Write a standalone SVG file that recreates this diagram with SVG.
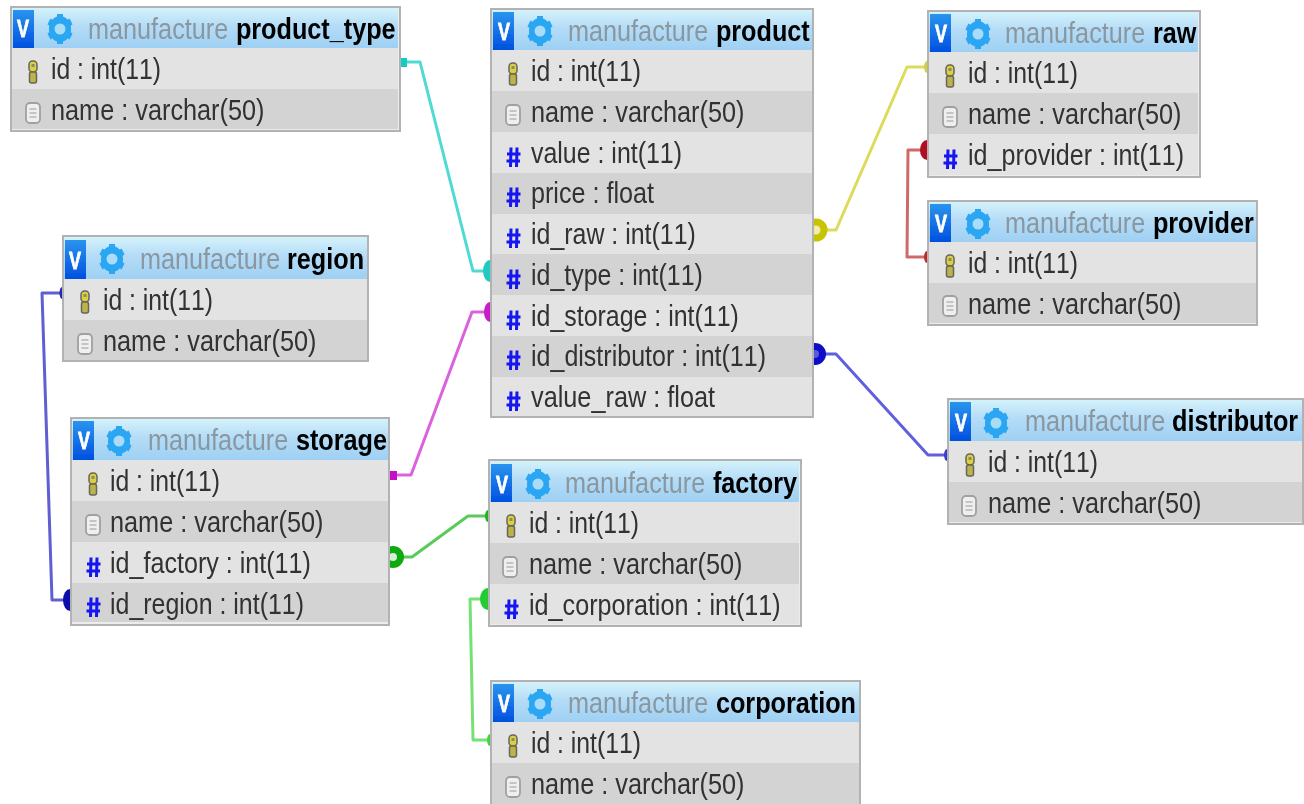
<svg xmlns="http://www.w3.org/2000/svg" width="1304" height="804" viewBox="0 0 1304 804">
<style>
text{font-family:"Liberation Sans",Arial,sans-serif;font-size:29px;font-kerning:none}
.c{fill:#303030}
.m{fill:#8b979f}
.b{fill:#000;font-weight:bold}
.v{fill:#fff;stroke:#fff;stroke-width:.8;font-weight:bold;font-size:24px;text-anchor:middle}
.box{fill:#ececec;stroke:#b2b2b2;stroke-width:2}
.ra{fill:#e3e3e3}
.rb{fill:#d3d3d3}
.h{fill:url(#hg)}
.vb{fill:url(#vg)}
.l{fill:none;stroke-width:3;stroke-linejoin:round}
</style>
<defs>
<linearGradient id="hg" x1="0" y1="0" x2="0" y2="1"><stop offset="0" stop-color="#d4f2fb"/><stop offset=".45" stop-color="#b4dcf7"/><stop offset="1" stop-color="#9ed0f3"/></linearGradient>
<linearGradient id="vg" x1="0" y1="0" x2="0" y2="1"><stop offset="0" stop-color="#2a94ee"/><stop offset="1" stop-color="#0050e0"/></linearGradient>
<filter id="soft" x="-2%" y="-2%" width="104%" height="104%"><feGaussianBlur stdDeviation="0.6"/></filter>
<g id="gear"><g transform="scale(.85 1)"><circle r="9" fill="none" stroke="#2aa6f2" stroke-width="8"/><g fill="#2aa6f2"><rect x="-3.500" y="-15" width="7" height="30"/><rect x="-3.500" y="-15" width="7" height="30" transform="rotate(60)"/><rect x="-3.500" y="-15" width="7" height="30" transform="rotate(120)"/></g></g><circle r="5.500" fill="#a8dcf8"/></g>
<g id="key"><rect x="-4" y="-11" width="8" height="11" rx="3.500" fill="#dcd040" stroke="#66665a" stroke-width="1.500"/><rect x="-3.500" y="0" width="7" height="11" rx="2" fill="#bdb34c" stroke="#66665a" stroke-width="1.500"/><rect x="-1.500" y="-8" width="3" height="3" fill="#8a8a70"/></g>
<g id="col"><rect x="-7" y="-10" width="14" height="20" rx="4" fill="#efefef" stroke="#a0a0a0" stroke-width="1.800"/><path d="M-3.500-4h7M-3.500 0h7M-3.500 4h7" stroke="#9a9a9a" stroke-width="1.200"/></g>
<g id="fk"><path d="M-3-9.500L-3.500 10M3-9.500L2.500 10M-7-3H6.500M-7.500 4H6" fill="none" stroke="#1414f0" stroke-width="3"/></g>
</defs>
<rect width="1304" height="804" fill="#fff"/>
<g filter="url(#soft)">
<g id="connectors">
<path class="l" stroke="#4fdad4" d="M400 62H420L473 271H490"/><rect x="400" y="58" width="7" height="9" fill="#14cbc4"/><ellipse cx="490" cy="271" rx="7" ry="11" fill="#22c8c2"/>
<path class="l" stroke="#dc62dc" d="M389 475H411L472 312H490"/><rect x="389" y="471" width="8" height="9" fill="#c80cc8"/><ellipse cx="490" cy="312" rx="6" ry="10" fill="#c81cc8"/>
<path class="l" stroke="#5acb5a" d="M389 557H412L468 516H488"/><circle cx="393" cy="557" r="7.500" fill="#d8ecd8" stroke="#0caa0c" stroke-width="7"/><ellipse cx="488" cy="516" rx="3" ry="6" fill="#22b022"/>
<path class="l" stroke="#74e074" d="M488 599H470L473 740H490"/><ellipse cx="488" cy="599" rx="8" ry="11" fill="#22cc33"/><ellipse cx="490" cy="740" rx="3" ry="6" fill="#44d044"/>
<path class="l" stroke="#5e5ed2" d="M62 293H42L52 600H70"/><ellipse cx="70" cy="600" rx="7" ry="11" fill="#0e0eaa"/><ellipse cx="62" cy="293" rx="2.500" ry="6" fill="#2828bb"/>
<path class="l" stroke="#dcdc5a" d="M813 230H836L907 67H927"/><circle cx="816" cy="230" r="8" fill="#eeeeb0" stroke="#c9c400" stroke-width="7"/><ellipse cx="927" cy="67" rx="3" ry="6" fill="#d4d040"/>
<path class="l" stroke="#cf6a6a" d="M927 150H908L907 257H927"/><ellipse cx="927" cy="150" rx="7" ry="10" fill="#b40f22"/><ellipse cx="927" cy="257" rx="3" ry="6" fill="#bc2a2a"/>
<path class="l" stroke="#5e5ee0" d="M813 354H836L928 455H947"/><circle cx="815" cy="354" r="7.500" fill="#5a5ae0" stroke="#0a0ac8" stroke-width="7"/><ellipse cx="947" cy="455" rx="3" ry="6" fill="#3a3ad0"/>
</g>
<g id="node-product_type">
<rect class="box" x="11" y="7" width="389" height="124"/>
<rect class="h" x="12" y="8" width="386" height="40"/><rect class="vb" x="13" y="10" width="21" height="38"/>
<rect class="ra" x="12" y="48" width="386" height="41"/><rect class="rb" x="12" y="89" width="386" height="40"/>
<text class="v" transform="translate(23 37) scale(.75 1)">V</text><use href="#gear" x="60" y="29"/>
<text class="m" transform="translate(88 39) scale(.87 1)">manufacture<tspan class="b" x="170">product_type</tspan></text>
<use href="#key" x="33" y="72"/><text class="c" transform="translate(51 79) scale(.853 1)">id : int(11)</text>
<use href="#col" x="33" y="113"/><text class="c" transform="translate(51 120) scale(.872 1)">name : varchar(50)</text>
</g>
<g id="node-region">
<rect class="box" x="63" y="236" width="305" height="125"/>
<rect class="h" x="64" y="237" width="303" height="42"/><rect class="vb" x="65" y="240" width="21" height="39"/>
<rect class="ra" x="64" y="279" width="303" height="41"/><rect class="rb" x="64" y="320" width="303" height="40"/>
<text class="v" transform="translate(75 269) scale(.75 1)">V</text><use href="#gear" x="112" y="259"/>
<text class="m" transform="translate(140 269) scale(.87 1)">manufacture<tspan class="b" x="169">region</tspan></text>
<use href="#key" x="85" y="302"/><text class="c" transform="translate(103 310) scale(.853 1)">id : int(11)</text>
<use href="#col" x="85" y="344"/><text class="c" transform="translate(103 351) scale(.872 1)">name : varchar(50)</text>
</g>
<g id="node-storage">
<rect class="box" x="71" y="418" width="318" height="207"/>
<rect class="h" x="72" y="419" width="316" height="41"/><rect class="vb" x="73" y="421" width="21" height="39"/>
<rect class="ra" x="72" y="460" width="316" height="41"/><rect class="rb" x="72" y="501" width="316" height="41"/><rect class="ra" x="72" y="542" width="316" height="41"/><rect class="rb" x="72" y="583" width="316" height="39"/>
<text class="v" transform="translate(84 449) scale(.75 1)">V</text><use href="#gear" x="119" y="441"/>
<text class="m" transform="translate(148 450) scale(.87 1)">manufacture<tspan class="b" x="170">storage</tspan></text>
<use href="#key" x="93" y="484"/><text class="c" transform="translate(110 491) scale(.853 1)">id : int(11)</text>
<use href="#col" x="93" y="525"/><text class="c" transform="translate(110 532) scale(.872 1)">name : varchar(50)</text>
<use href="#fk" x="94" y="567"/><text class="c" transform="translate(110 573) scale(.866 1)">id_factory : int(11)</text>
<use href="#fk" x="94" y="607"/><text class="c" transform="translate(110 614) scale(.86 1)">id_region : int(11)</text>
</g>
<g id="node-product">
<rect class="box" x="491" y="9" width="322" height="408"/>
<rect class="h" x="492" y="10" width="320" height="40"/><rect class="vb" x="493" y="12" width="21" height="38"/>
<rect class="ra" x="492" y="50" width="320" height="41"/><rect class="rb" x="492" y="91" width="320" height="41"/><rect class="ra" x="492" y="132" width="320" height="41"/><rect class="rb" x="492" y="173" width="320" height="41"/><rect class="ra" x="492" y="214" width="320" height="40"/><rect class="rb" x="492" y="254" width="320" height="41"/><rect class="ra" x="492" y="295" width="320" height="41"/><rect class="rb" x="492" y="336" width="320" height="41"/><rect class="ra" x="492" y="377" width="320" height="39"/>
<text class="v" transform="translate(504 40) scale(.75 1)">V</text><use href="#gear" x="540" y="31"/>
<text class="m" transform="translate(568 41) scale(.87 1)">manufacture<tspan class="b" x="170">product</tspan></text>
<use href="#key" x="513" y="74"/><text class="c" transform="translate(531 81) scale(.853 1)">id : int(11)</text>
<use href="#col" x="513" y="115"/><text class="c" transform="translate(531 122) scale(.872 1)">name : varchar(50)</text>
<use href="#fk" x="514" y="157"/><text class="c" transform="translate(531 163) scale(.86 1)">value : int(11)</text>
<use href="#fk" x="514" y="197"/><text class="c" transform="translate(531 203) scale(.867 1)">price : float</text>
<use href="#fk" x="514" y="238"/><text class="c" transform="translate(531 244) scale(.86 1)">id_raw : int(11)</text>
<use href="#fk" x="514" y="279"/><text class="c" transform="translate(531 285) scale(.86 1)">id_type : int(11)</text>
<use href="#fk" x="514" y="320"/><text class="c" transform="translate(531 326) scale(.86 1)">id_storage : int(11)</text>
<use href="#fk" x="514" y="360"/><text class="c" transform="translate(531 366) scale(.863 1)">id_distributor : int(11)</text>
<use href="#fk" x="514" y="401"/><text class="c" transform="translate(531 407) scale(.872 1)">value_raw : float</text>
</g>
<g id="node-raw">
<rect class="box" x="928" y="11" width="272" height="166"/>
<rect class="h" x="929" y="12" width="269" height="40"/><rect class="vb" x="930" y="14" width="21" height="38"/>
<rect class="ra" x="929" y="52" width="269" height="41"/><rect class="rb" x="929" y="93" width="269" height="41"/><rect class="ra" x="929" y="134" width="269" height="41"/>
<text class="v" transform="translate(941 42) scale(.75 1)">V</text><use href="#gear" x="978" y="34"/>
<text class="m" transform="translate(1005 43) scale(.87 1)">manufacture<tspan class="b" x="170">raw</tspan></text>
<use href="#key" x="950" y="76"/><text class="c" transform="translate(968 83) scale(.853 1)">id : int(11)</text>
<use href="#col" x="950" y="117"/><text class="c" transform="translate(968 124) scale(.872 1)">name : varchar(50)</text>
<use href="#fk" x="951" y="159"/><text class="c" transform="translate(968 165) scale(.865 1)">id_provider : int(11)</text>
</g>
<g id="node-provider">
<rect class="box" x="928" y="201" width="329" height="124"/>
<rect class="h" x="929" y="202" width="327" height="40"/><rect class="vb" x="930" y="204" width="21" height="38"/>
<rect class="ra" x="929" y="242" width="327" height="41"/><rect class="rb" x="929" y="283" width="327" height="40"/>
<text class="v" transform="translate(941 232) scale(.75 1)">V</text><use href="#gear" x="978" y="224"/>
<text class="m" transform="translate(1005 233) scale(.87 1)">manufacture<tspan class="b" x="170">provider</tspan></text>
<use href="#key" x="950" y="266"/><text class="c" transform="translate(968 273) scale(.853 1)">id : int(11)</text>
<use href="#col" x="950" y="306"/><text class="c" transform="translate(968 314) scale(.872 1)">name : varchar(50)</text>
</g>
<g id="node-distributor">
<rect class="box" x="948" y="399" width="355" height="125"/>
<rect class="h" x="949" y="400" width="353" height="41"/><rect class="vb" x="950" y="402" width="21" height="39"/>
<rect class="ra" x="949" y="441" width="353" height="41"/><rect class="rb" x="949" y="482" width="353" height="40"/>
<text class="v" transform="translate(961 431) scale(.75 1)">V</text><use href="#gear" x="996" y="423"/>
<text class="m" transform="translate(1025 431) scale(.87 1)">manufacture<tspan class="b" x="169">distributor</tspan></text>
<use href="#key" x="970" y="465"/><text class="c" transform="translate(988 472) scale(.853 1)">id : int(11)</text>
<use href="#col" x="969" y="506"/><text class="c" transform="translate(988 513) scale(.872 1)">name : varchar(50)</text>
</g>
<g id="node-factory">
<rect class="box" x="489" y="460" width="312" height="166"/>
<rect class="h" x="490" y="461" width="309" height="41"/><rect class="vb" x="491" y="464" width="21" height="38"/>
<rect class="ra" x="490" y="502" width="309" height="41"/><rect class="rb" x="490" y="543" width="309" height="41"/><rect class="ra" x="490" y="584" width="309" height="40"/>
<text class="v" transform="translate(502 493) scale(.75 1)">V</text><use href="#gear" x="538" y="484"/>
<text class="m" transform="translate(565 493) scale(.87 1)">manufacture<tspan class="b" x="170">factory</tspan></text>
<use href="#key" x="511" y="526"/><text class="c" transform="translate(529 533) scale(.853 1)">id : int(11)</text>
<use href="#col" x="510" y="567"/><text class="c" transform="translate(529 574) scale(.872 1)">name : varchar(50)</text>
<use href="#fk" x="512" y="609"/><text class="c" transform="translate(529 615) scale(.868 1)">id_corporation : int(11)</text>
</g>
<g id="node-corporation">
<rect class="box" x="491" y="681" width="369" height="130"/>
<rect class="h" x="492" y="682" width="367" height="40"/><rect class="vb" x="493" y="684" width="21" height="38"/>
<rect class="ra" x="492" y="722" width="367" height="41"/><rect class="rb" x="492" y="763" width="367" height="41"/>
<text class="v" transform="translate(504 712) scale(.75 1)">V</text><use href="#gear" x="540" y="704"/>
<text class="m" transform="translate(568 713) scale(.87 1)">manufacture<tspan class="b" x="170">corporation</tspan></text>
<use href="#key" x="513" y="746"/><text class="c" transform="translate(531 753) scale(.853 1)">id : int(11)</text>
<use href="#col" x="513" y="787"/><text class="c" transform="translate(531 794) scale(.872 1)">name : varchar(50)</text>
</g>
</g>
</svg>
